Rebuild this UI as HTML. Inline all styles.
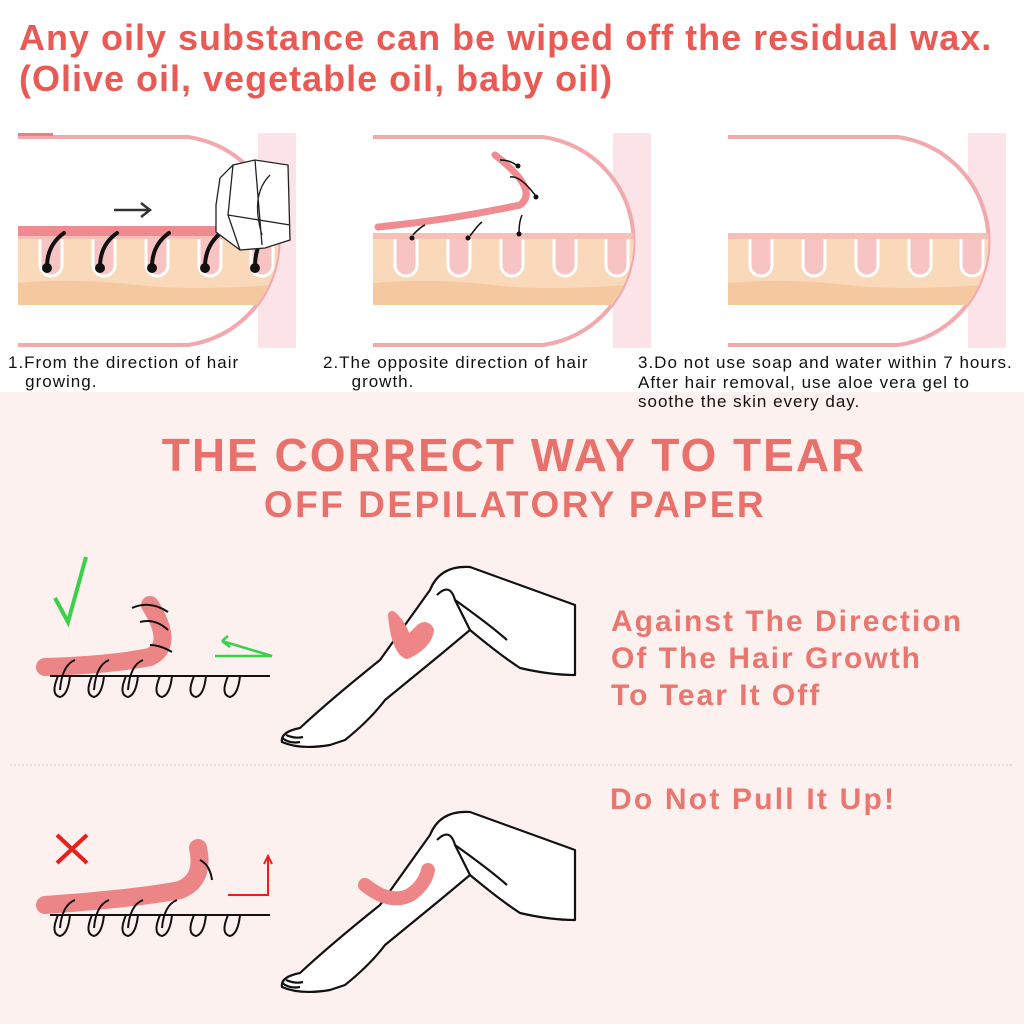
<!DOCTYPE html>
<html><head><meta charset="utf-8"><style>
html,body{margin:0;padding:0;width:1024px;height:1024px;overflow:hidden;background:#fff;font-family:"Liberation Sans",sans-serif}
.t{position:absolute;white-space:nowrap}
</style></head><body>
<div style="position:absolute;left:0;top:392px;width:1024px;height:632px;background:#fdf1ef"></div>
<div class="t" style="left:19px;top:17px;font-size:36px;letter-spacing:1px;font-weight:bold;color:#e95a55;line-height:41px">Any oily substance can be wiped off the residual wax.<br>(Olive oil, vegetable oil, baby oil)</div>

<svg style="position:absolute;left:0;top:0" width="1024" height="1024">
<defs>
<clipPath id="pc"><path d="M0 4 H170 A105 105 0 0 1 170 212 H0Z"/></clipPath>
<g id="panel">
  <rect x="0" y="0" width="278" height="215" fill="#fff"/>
  <rect x="240" y="0" width="38" height="215" fill="#fce3e8"/>
  <path d="M0 4 H170 A105 105 0 0 1 170 212 H0" fill="#fff" stroke="#f2a9ae" stroke-width="4"/>
  <g clip-path="url(#pc)">
  <rect x="0" y="102" width="278" height="70" fill="#f9d9b9"/>
  <path d="M0 150 Q60 145 120 152 T278 150 V172 H0Z" fill="#f5c9a0"/>
  <g fill="#f7c3c3" stroke="#fff" stroke-width="3">
    <path d="M22 106 v26 a11 11 0 0 0 22 0 v-26"/>
    <path d="M75 106 v26 a11 11 0 0 0 22 0 v-26"/>
    <path d="M128 106 v26 a11 11 0 0 0 22 0 v-26"/>
    <path d="M181 106 v26 a11 11 0 0 0 22 0 v-26"/>
    <path d="M233 106 v26 a11 11 0 0 0 22 0 v-26"/>
  </g>
  <rect x="0" y="100" width="278" height="6" fill="#f6c0b6"/>
  </g>
</g>
</defs>
<use href="#panel" x="18" y="133"/>
<use href="#panel" x="373" y="133"/>
<use href="#panel" x="728" y="133"/>
<rect x="18" y="133" width="35" height="3" fill="#e97e83"/>
<!-- panel1 wax + hairs -->
<rect x="18" y="226" width="200" height="10" fill="#ee8a90"/>
<g stroke="#111" stroke-width="4" fill="none" stroke-linecap="round">
<path d="M47 267 Q47 245 64 233"/><path d="M100 267 Q100 245 117 233"/><path d="M152 267 Q152 245 169 233"/><path d="M205 267 Q205 245 222 232"/><path d="M255 267 Q255 250 262 240"/>
</g>
<g fill="#111"><circle cx="47" cy="268" r="5"/><circle cx="100" cy="268" r="5"/><circle cx="152" cy="268" r="5"/><circle cx="205" cy="268" r="5"/><circle cx="255" cy="268" r="5"/></g>
<path d="M114 210 H150 M141 203 L150 210 L141 217" stroke="#333" stroke-width="2.5" fill="none"/>
<g fill="#fff" stroke="#222" stroke-width="1.3"><path d="M216 205 L220 178 L233 165 L255 160 L288 165 L290 240 L265 248 L240 250 L216 232Z"/><path d="M233 165 L228 215 L240 250 M228 215 L290 225 M255 160 L262 245 M270 175 Q250 195 262 235"/></g>
<!-- panel2 wax -->
<path d="M378 227 Q450 220 520 205 Q540 190 495 155" stroke="#ef8b91" stroke-width="7" fill="none" stroke-linecap="round"/>
<g stroke="#111" stroke-width="1.5" fill="none"><path d="M413 235 Q420 227 425 225"/><path d="M470 236 Q478 225 482 222"/><path d="M519 232 Q519 222 522 215"/><path d="M510 177 Q520 175 535 195"/><path d="M500 160 Q510 160 516 165"/></g>
<g fill="#111"><circle cx="412" cy="238" r="2.5"/><circle cx="468" cy="238" r="2.5"/><circle cx="519" cy="234" r="2.5"/><circle cx="536" cy="197" r="2.5"/><circle cx="518" cy="166" r="2.5"/></g>

<!-- bottom illustration 1 -->
<path d="M55 598 L68 622 L86 557" stroke="#3ad04a" stroke-width="4" fill="none"/>
<path d="M45 667 Q110 665 150 657 Q175 645 150 605" stroke="#ec8585" stroke-width="18" fill="none" stroke-linecap="round"/>
<path d="M50 676 H270" stroke="#111" stroke-width="2"/>
<g stroke="#111" stroke-width="2" fill="none">
<path d="M58 676 Q50 695 60 697 Q68 695 70 676"/><path d="M92 676 Q84 695 94 697 Q102 695 104 676"/><path d="M126 676 Q118 695 128 697 Q136 695 138 676"/><path d="M160 676 Q152 695 162 697 Q170 695 172 676"/><path d="M194 676 Q186 695 196 697 Q204 695 206 676"/><path d="M228 676 Q220 695 230 697 Q238 695 240 676"/>
<path d="M60 690 Q62 665 75 660"/><path d="M94 690 Q96 665 109 660"/><path d="M128 690 Q130 665 143 660"/>
<path d="M132 608 Q150 600 168 612"/><path d="M140 622 Q155 618 168 630"/><path d="M150 645 Q160 645 172 652"/>
</g>
<path d="M215 656 H272 L222 641 M222 641 L230 647 M222 641 L228 636" stroke="#3ad04a" stroke-width="2.5" fill="none"/>
<!-- legs -->
<g id="leg" fill="#fff" stroke="#111" stroke-width="2.2" stroke-linejoin="round">
<path d="M575 605 L470 567 Q440 565 430 590 L380 660 Q330 700 300 728 Q280 732 282 742 Q300 750 330 745 L345 740 Q370 720 385 700 L440 655 L470 630 Q500 655 520 668 Q550 675 575 675Z"/>
<path d="M437 595 Q450 582 455 600 L470 630"/><path d="M455 600 Q490 625 507 640"/>
<path d="M282 738 Q290 744 300 742 M286 735 Q295 739 303 737"/>
</g>
<path d="M392 615 Q395 650 407 655 Q428 645 430 630 Q425 622 418 630 L408 640 Q400 620 392 615Z" fill="#ee8688" stroke="#ee8688" stroke-width="8" stroke-linejoin="round"/>
<line x1="10" y1="765" x2="1014" y2="765" stroke="#e6c4c4" stroke-width="1" stroke-dasharray="2,2"/>
<!-- bottom illustration 2 -->
<path d="M57 835 L87 863 M87 835 L57 863" stroke="#e8201b" stroke-width="4"/>
<path d="M45 905 Q140 898 180 890 Q205 880 198 848" stroke="#ec8585" stroke-width="18" fill="none" stroke-linecap="round"/>
<path d="M50 915 H270" stroke="#111" stroke-width="2"/>
<g stroke="#111" stroke-width="2" fill="none">
<path d="M58 915 Q50 934 60 936 Q68 934 70 915"/><path d="M92 915 Q84 934 94 936 Q102 934 104 915"/><path d="M126 915 Q118 934 128 936 Q136 934 138 915"/><path d="M160 915 Q152 934 162 936 Q170 934 172 915"/><path d="M194 915 Q186 934 196 936 Q204 934 206 915"/><path d="M228 915 Q220 934 230 936 Q238 934 240 915"/>
<path d="M60 928 Q62 905 75 900"/><path d="M94 928 Q96 905 109 900"/><path d="M128 928 Q130 905 143 900"/><path d="M162 928 Q164 905 177 900"/><path d="M200 860 Q210 865 212 880"/>
</g>
<path d="M228 895 H268 V858 M264 864 L268 856 L272 864" stroke="#e8201b" stroke-width="2" fill="none"/>
<use href="#leg" x="0" y="245"/>
<path d="M365 885 Q390 905 410 895 Q425 885 428 870" stroke="#ee8688" stroke-width="14" fill="none" stroke-linecap="round"/>
</svg>

<div class="t" style="left:8px;top:353px;font-size:17px;letter-spacing:1px;color:#111;line-height:19px">1.From the direction of hair<br>&nbsp;&nbsp;&nbsp;growing.</div>
<div class="t" style="left:323px;top:353px;font-size:17px;letter-spacing:1px;color:#111;line-height:19px">2.The opposite direction of hair<br>&nbsp;&nbsp;&nbsp;&nbsp;&nbsp;growth.</div>
<div class="t" style="left:638px;top:353px;font-size:17px;letter-spacing:1px;color:#111;line-height:19.5px">3.Do not use soap and water within 7 hours.<br>After hair removal, use aloe vera gel to<br>soothe the skin every day.</div>

<div class="t" style="left:0;width:1028px;text-align:center;top:428px;font-size:46px;font-weight:bold;color:#e8726b;letter-spacing:2px">THE CORRECT WAY TO TEAR</div>
<div class="t" style="left:0;width:1030px;text-align:center;top:484px;font-size:37px;font-weight:bold;color:#e8726b;letter-spacing:2.5px">OFF DEPILATORY PAPER</div>
<div class="t" style="left:611px;top:603px;font-size:30px;font-weight:bold;color:#ea7670;letter-spacing:2px;line-height:37px">Against The Direction<br>Of The Hair Growth<br>To Tear It Off</div>
<div class="t" style="left:610px;top:783px;font-size:30px;font-weight:bold;color:#ea7670;letter-spacing:2.2px">Do Not Pull It Up!</div>
</body></html>
